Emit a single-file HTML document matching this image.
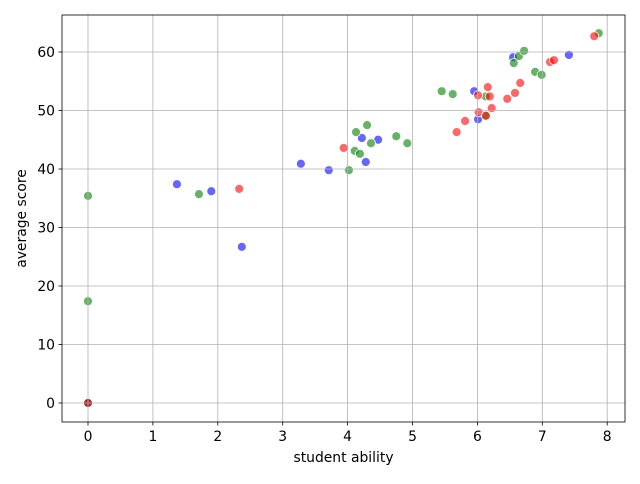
<!DOCTYPE html>
<html><head><meta charset="utf-8"><style>
body{margin:0;background:#fff;font-family:"DejaVu Sans",sans-serif}
svg text{font-family:"DejaVu Sans","Liberation Sans",sans-serif;font-size:13.9px;fill:#000}
</style></head><body>
<svg id="chart" width="640" height="480" xmlns="http://www.w3.org/2000/svg"></svg>
<script>
const blueX=[0,1.37,1.90,2.37,3.28,3.71,4.22,4.47,4.28,5.95,6.01,6.55,7.41];
const blueY=[0,37.4,36.2,26.7,40.9,39.8,45.3,45.0,41.2,53.3,48.5,59.1,59.5];
const greenX=[0,0,0,1.71,4.02,4.30,4.13,4.36,4.75,4.92,4.11,4.19,5.45,5.62,6.13,6.13,6.64,6.72,6.56,6.89,6.99,7.87];
const greenY=[0,17.4,35.4,35.7,39.8,47.5,46.3,44.4,45.6,44.4,43.1,42.6,53.3,52.8,52.4,49.1,59.3,60.2,58.1,56.6,56.1,63.2];
const redX=[0,2.33,3.94,5.68,5.81,6.02,6.13,6.22,6.01,6.16,6.19,6.46,6.58,6.66,7.12,7.18,7.80];
const redY=[0,36.6,43.6,46.3,48.2,49.7,49.1,50.4,52.6,54.0,52.4,52.0,53.0,54.7,58.3,58.6,62.7];
const xTicks=[0,1,2,3,4,5,6,7,8];
const yTicks=[0,10,20,30,40,50,60];
const L=62,R=625,T=15,B=422;
const sx=v=>88+v*64.9, sy=v=>403-v*5.85;
const svg=document.getElementById('chart');
const NS='http://www.w3.org/2000/svg';
function mk(t,a){const e=document.createElementNS(NS,t);for(const k in a)e.setAttribute(k,a[k]);svg.appendChild(e);return e;}
function series(xs,ys,col,name){
  xs.forEach((x,i)=>{const c=mk('circle',{cx:sx(x),cy:sy(ys[i]),r:4.5,fill:col,'fill-opacity':0.6,stroke:'#fff','stroke-width':0.8});
  
  });
}
series(blueX,blueY,'#0000ff','blue');
series(greenX,greenY,'#008000','green');
series(redX,redY,'#ff0000','red');
xTicks.forEach(v=>{const x=sx(v);
  const g=mk('line',{x1:x,y1:T,x2:x,y2:B,stroke:'#b0b0b0','stroke-width':0.8});
  
  mk('line',{x1:x,y1:B,x2:x,y2:B+3.5,stroke:'#000','stroke-width':0.8});
  const t=mk('text',{x:x,y:B+19,'text-anchor':'middle'});t.textContent=v;
  });
yTicks.forEach(v=>{const y=sy(v);
  const g=mk('line',{x1:L,y1:y,x2:R,y2:y,stroke:'#b0b0b0','stroke-width':0.8});
  
  mk('line',{x1:L-3.5,y1:y,x2:L,y2:y,stroke:'#000','stroke-width':0.8});
  const t=mk('text',{x:L-7,y:y+5,'text-anchor':'end'});t.textContent=v;
  });
const f=mk('rect',{x:L,y:T,width:R-L,height:B-T,fill:'none',stroke:'#000','stroke-width':0.8});

const xt=mk('text',{x:(L+R)/2,y:462,'text-anchor':'middle'});xt.textContent='student ability';

const yt=mk('text',{x:26,y:(T+B)/2,'text-anchor':'middle',transform:`rotate(-90 26 ${(T+B)/2})`});yt.textContent='average score';

</script>
</body></html>
